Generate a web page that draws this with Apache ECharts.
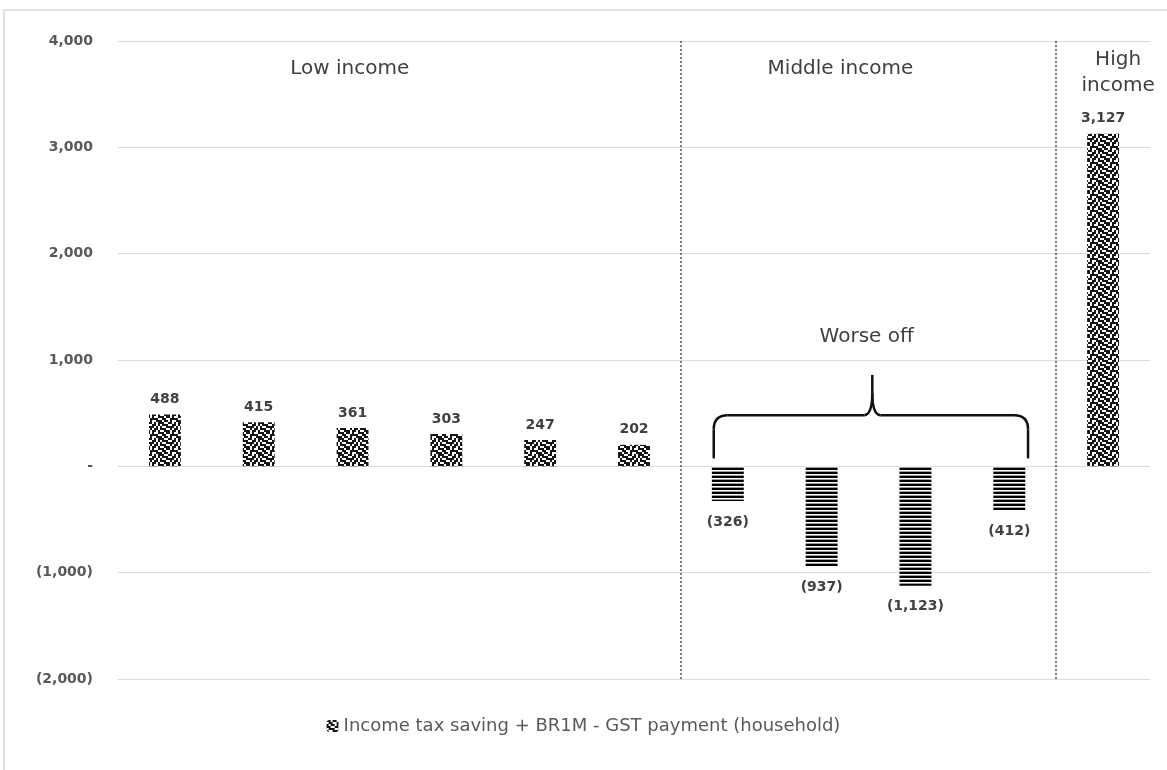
<!DOCTYPE html>
<html>
<head>
<meta charset="utf-8">
<script src="https://cdn.jsdelivr.net/npm/echarts@6/dist/echarts.min.js"></script>
<style>html,body{margin:0;padding:0;background:#fff}#c{width:1167px;height:770px}</style>
</head>
<body>
<div id="c"></div>
<script>
// ---- data ----
const categories = ['G1','G2','G3','G4','G5','G6','G7','G8','G9','G10','G11'];
const groups = ['Low','Low','Low','Low','Low','Low','Middle','Middle','Middle','Middle','High'];
const values = [488, 415, 361, 303, 247, 202, -326, -937, -1123, -412, 3127];
const seriesName = 'Income tax saving + BR1M - GST payment (household)';
const yTicks = [-2000, -1000, 0, 1000, 2000, 3000, 4000];
const groupTitles = ['Low income', 'Middle income', 'High\nincome'];
const braceTitle = 'Worse off';

// ---- patterns ----
function speckle() {
  const rows = [
    '1101101001',
    '0110011110',
    '1011010011',
    '1100110101',
    '0111001101',
    '1001111010',
    '1110010110',
    '0011101101'
  ];
  const s = 2, w = rows[0].length, h = rows.length;
  const c = document.createElement('canvas');
  c.width = w * s; c.height = h * s;
  const g = c.getContext('2d');
  g.fillStyle = '#fff'; g.fillRect(0,0,c.width,c.height);
  g.fillStyle = '#151515';
  rows.forEach((r, y) => { for (let x = 0; x < w; x++) if (r[x] === '1') g.fillRect(x*s, y*s, s, s); });
  return c;
}
function stripes() {
  const c = document.createElement('canvas');
  c.width = 4; c.height = 4;
  const g = c.getContext('2d');
  g.fillStyle = '#fff'; g.fillRect(0,0,4,4);
  g.fillStyle = '#000'; g.fillRect(0,0,4,2);
  g.fillStyle = '#999'; g.fillRect(0,3,4,1);
  return c;
}
const speckleFill = { image: speckle(), repeat: 'repeat' };
const stripeFill = { image: stripes(), repeat: 'repeat' };

const fmt = v => {
  if (v === 0) return '-';
  const s = Math.abs(v).toLocaleString('en-US');
  return v < 0 ? '(' + s + ')' : s;
};

const chart = echarts.init(document.getElementById('c'));
const FONT = 'DejaVu Sans';

chart.setOption({
  animation: false,
  backgroundColor: '#fff',
  textStyle: { fontFamily: FONT },
  grid: { left: 118, right: 17, top: 41, bottom: 91, containLabel: false },
  xAxis: [
    { type: 'category', data: categories, axisLine: { show: false }, axisTick: { show: false }, axisLabel: { show: false } },
    { type: 'value', min: 0, max: 11, show: false }
  ],
  yAxis: {
    type: 'value', min: yTicks[0], max: yTicks[yTicks.length - 1], interval: 1000,
    axisLine: { show: false }, axisTick: { show: false },
    splitLine: { lineStyle: { color: '#d9d9d9', width: 1 } },
    axisLabel: { formatter: fmt, color: '#595959', fontSize: 14, fontWeight: 'bold', margin: 25, fontFamily: FONT }
  },
  legend: {
    bottom: 30, left: 'center', itemWidth: 12, itemHeight: 12, itemGap: 6,
    textStyle: { color: '#595959', fontSize: 18, fontFamily: FONT },
    data: [seriesName]
  },
  series: [
    {
      name: seriesName, type: 'bar', barWidth: '34%',
      itemStyle: { color: speckleFill },
      data: values.map((v, i) => ({
        value: v,
        itemStyle: { color: groups[i] === 'Middle' ? stripeFill : speckleFill },
        label: { position: v < 0 ? 'bottom' : 'top', distance: v < 0 ? 14 : 8 }
      })),
      label: { show: true, formatter: p => fmt(p.value), color: '#404040', fontSize: 14, fontWeight: 'bold', fontFamily: FONT }
    },
    {
      name: 'dividers', type: 'line', xAxisIndex: 1, data: [], silent: true,
      markLine: {
        silent: true, symbol: 'none', label: { show: false },
        lineStyle: { color: '#555', type: [2, 2], width: 1.5 },
        data: [{ xAxis: groups.indexOf('Middle') }, { xAxis: groups.indexOf('High') }]
      }
    }
  ]
});

// ---- annotations (data coordinates on hidden value x-axis / y axis) ----
const P = (x, y) => chart.convertToPixel({ xAxisIndex: 1, yAxisIndex: 0 }, [x, y]);
const lowC = P(2.47, 3740), midC = P(7.7, 3740), highC = P(10.66, 3700);
const worse = P(7.98, 1220);
const bl = P(6.35, 75), br = P(9.70, 75), bm = P(8.04, 480), bt = P(8.04, 860);
const xl = bl[0], xr = br[0], yb = bl[1], ym = bm[1], xc = bm[0], yt = bt[1];
const r = 14;
const braceStyle = { fill: 'none', stroke: '#111', lineWidth: 2.5 };
const seg = (x1, y1, x2, y2) => ({ type: 'line', silent: true, shape: { x1, y1, x2, y2 }, style: braceStyle });
const curve = (x1, y1, cx, cy, x2, y2) => ({ type: 'bezierCurve', silent: true, shape: { x1, y1, x2, y2, cpx1: cx, cpy1: cy }, style: braceStyle });
const brace = [
  seg(xl, yb, xl, ym + r),
  curve(xl, ym + r, xl, ym, xl + r, ym),
  seg(xl + r, ym, xc - 8, ym),
  curve(xc - 8, ym, xc, ym - 1, xc, ym - 22),
  seg(xc, ym - 22, xc, yt),
  curve(xc + 8, ym, xc, ym - 1, xc, ym - 22),
  seg(xc + 8, ym, xr - r, ym),
  curve(xr - r, ym, xr, ym, xr, ym + r),
  seg(xr, ym + r, xr, yb)
];

const tStyle = { fill: '#404040', font: '20px "DejaVu Sans"', align: 'center', verticalAlign: 'middle' };
chart.setOption({
  graphic: [
    { type: 'rect', silent: true, shape: { x: 4, y: 10, width: 1200, height: 800 }, style: { fill: 'none', stroke: '#d9d9d9', lineWidth: 1.5 }, z: -1 },
    { type: 'text', x: lowC[0], y: lowC[1], style: Object.assign({ text: groupTitles[0] }, tStyle) },
    { type: 'text', x: midC[0], y: midC[1], style: Object.assign({ text: groupTitles[1] }, tStyle) },
    { type: 'text', x: highC[0], y: highC[1], style: Object.assign({ text: groupTitles[2], lineHeight: 26 }, tStyle) },
    { type: 'text', x: worse[0], y: worse[1], style: Object.assign({ text: braceTitle }, tStyle) }
  ].concat(brace)
});
</script>
</body>
</html>
